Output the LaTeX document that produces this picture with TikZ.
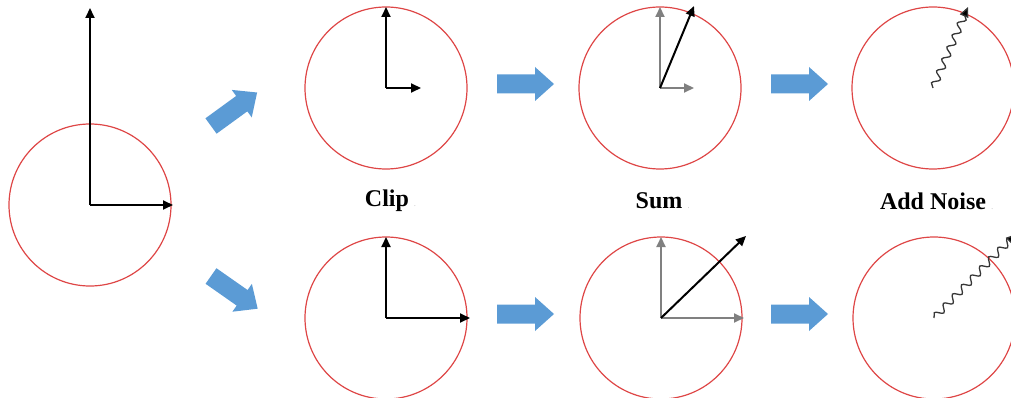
\documentclass[tikz,border=0pt]{standalone}
\usepackage{fontspec}
\setmainfont{Liberation Serif}
\usetikzlibrary{arrows.meta,decorations.pathmorphing}

\definecolor{ringred}{RGB}{222,70,70}
\definecolor{flowblue}{RGB}{91,155,213}
\definecolor{oldgray}{RGB}{128,128,128}
\definecolor{noisegray}{RGB}{55,55,55}

\tikzset{
  ring/.style={circle,draw=ringred,line width=1.2pt,minimum size=162pt,inner sep=0pt},
  vec/.style={line width=2pt,-{Triangle[length=10pt,width=9pt]}},
  oldvec/.style={vec,draw=oldgray,-{Triangle[length=10pt,width=9pt,fill=oldgray]}},
  noise/.style={noisegray,line width=1.3pt,decorate,
    decoration={snake,segment length=13pt,amplitude=3.5pt,post length=3pt},
    -{Triangle[length=10pt,width=9pt,fill=black]}},
  steplabel/.style={font=\fontsize{24}{26}\selectfont\bfseries},
  blockarrow/.pic={
    \fill[flowblue] (0,-9.5) -- (38,-9.5) -- (38,-17) -- (57,0) -- (38,17)
      -- (38,9.5) -- (0,9.5) -- cycle;
  }
}

\begin{document}
\begin{tikzpicture}[x=1pt,y=-1pt]
  \useasboundingbox (0,0) rectangle (1011,398);

  % input
  \node[ring] (orig) at (90,205) {};
  \coordinate (origy) at (90,8);
  \coordinate (origx) at (173,205);
  \draw[vec] (orig.center) -- (origy);
  \draw[vec] (orig.center) -- (origx);

  % flow arrows
  \pic[rotate=36] at (211,126) {blockarrow};
  \pic[rotate=-35] at (211,276) {blockarrow};
  \pic at (497,84) {blockarrow};
  \pic at (771,84) {blockarrow};
  \pic at (497,314) {blockarrow};
  \pic at (771,314) {blockarrow};

  % top row
  \node[ring] (cliptop) at (386,88) {};
  \coordinate (cliptopy) at (386,7);
  \coordinate (cliptopx) at (421,88);
  \draw[vec] (cliptop.center) -- (cliptopy);
  \draw[vec] (cliptop.center) -- (cliptopx);

  \node[ring] (sumtop) at (660,88) {};
  \coordinate (sumtopy) at (660,7);
  \coordinate (sumtopx) at (694,88);
  \coordinate (sumtopv) at (694,6);
  \draw[oldvec] (sumtop.center) -- (sumtopy);
  \draw[oldvec] (sumtop.center) -- (sumtopx);
  \draw[vec] (sumtop.center) -- (sumtopv);

  \node[ring] (noisetop) at (933,88) {};
  \coordinate (noisetopv) at (968,7);
  \draw[noise] (noisetop.center) -- (noisetopv);

  % labels
  \node[steplabel] (cliplabel) at (387,201) {Clip};
  \node[steplabel] (sumlabel) at (659,201) {Sum};
  \node[steplabel] (noiselabel) at (933,201) {Add Noise};
  \foreach \lab in {cliplabel,sumlabel,noiselabel}
    \node[gray!70,font=\scriptsize,anchor=base west,inner sep=1.5pt] at (\lab.base east) {.};

  % bottom row
  \node[ring] (clipbot) at (386,318) {};
  \coordinate (clipboty) at (386,237);
  \coordinate (clipbotx) at (470,318);
  \draw[vec] (clipbot.center) -- (clipboty);
  \draw[vec] (clipbot.center) -- (clipbotx);

  \node[ring] (sumbot) at (661,318) {};
  \coordinate (sumboty) at (661,237);
  \coordinate (sumbotx) at (744,318);
  \coordinate (sumbotv) at (746,236);
  \draw[oldvec] (sumbot.center) -- (sumboty);
  \draw[oldvec] (sumbot.center) -- (sumbotx);
  \draw[vec] (sumbot.center) -- (sumbotv);

  \node[ring] (noisebot) at (934,318) {};
  \coordinate (noisebotv) at (1016,234);
  \draw[noise] (noisebot.center) -- (noisebotv);
\end{tikzpicture}
\end{document}
